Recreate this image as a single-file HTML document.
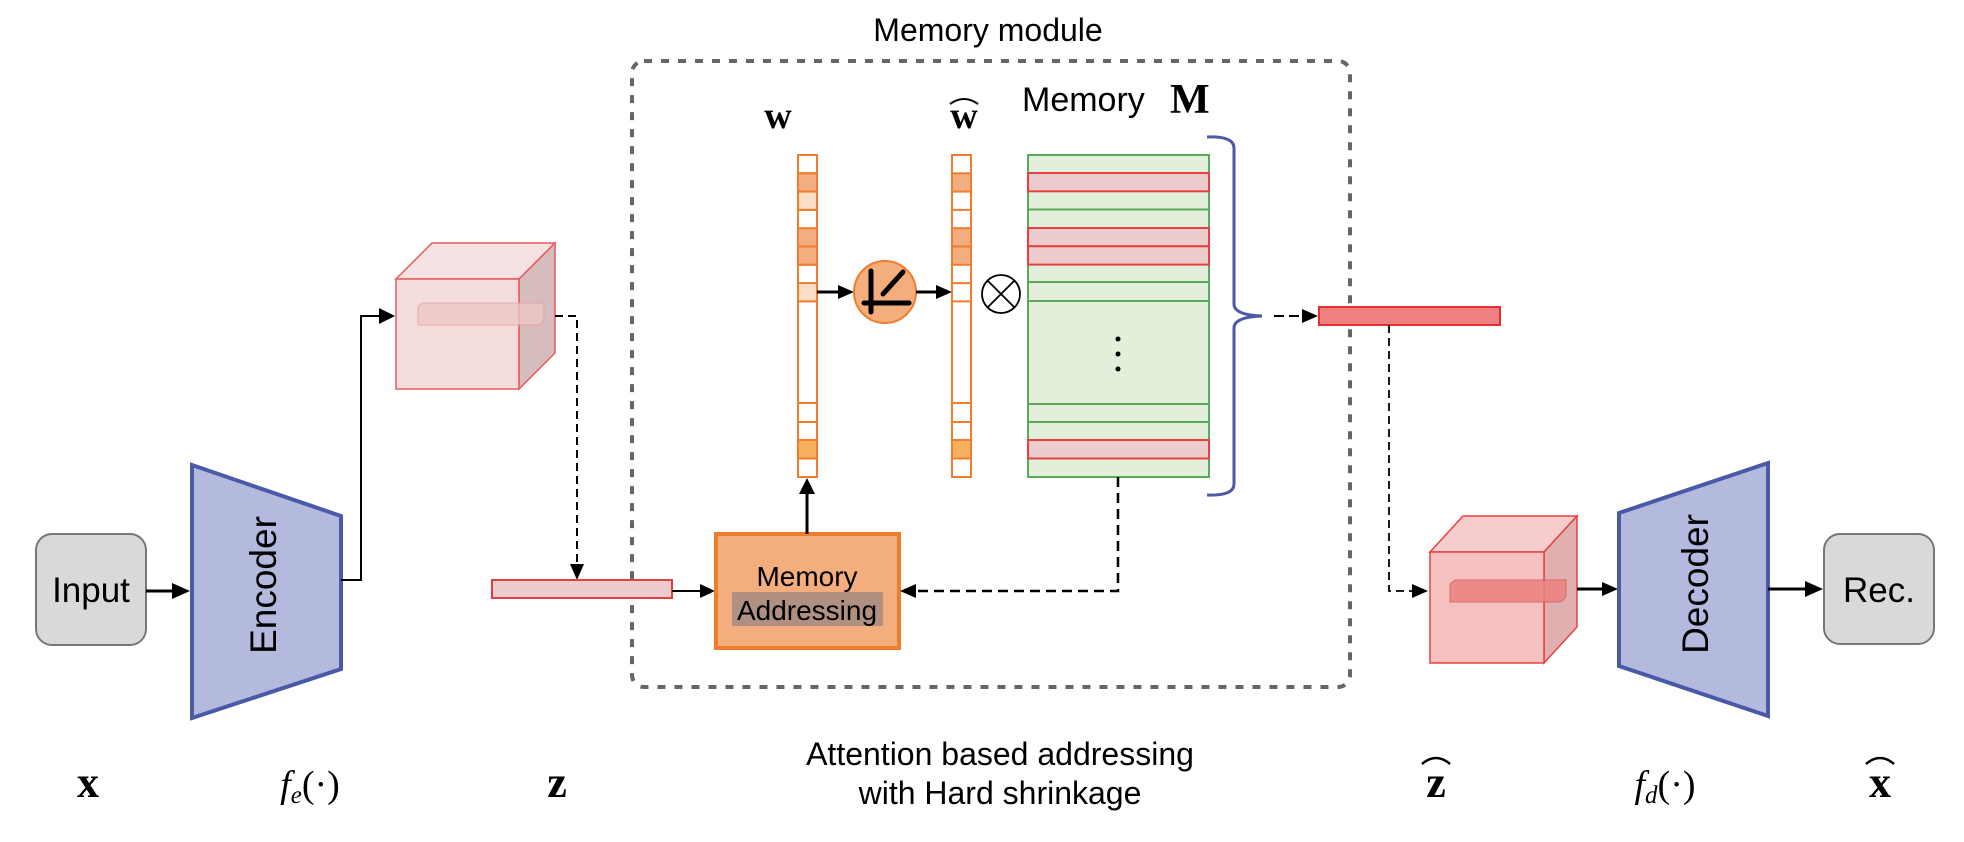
<!DOCTYPE html>
<html><head><meta charset="utf-8"><style>
html,body{margin:0;padding:0;background:#fff;}
svg{display:block;}
text{font-family:"Liberation Sans",sans-serif;}
.m{font-family:"Liberation Serif",serif;font-weight:bold;}
.i{font-family:"Liberation Serif",serif;font-style:italic;}
</style></head><body>
<svg width="1964" height="842" viewBox="0 0 1964 842" xmlns="http://www.w3.org/2000/svg">
<!-- Memory module -->
<text x="988" y="41" font-size="32" text-anchor="middle">Memory module</text>
<rect x="632" y="61" width="718" height="626" rx="12" fill="none" stroke="#666" stroke-width="4" stroke-dasharray="8 9"/>

<!-- Input -->
<rect x="36" y="534" width="110" height="111" rx="16" fill="#d9d9d9" stroke="#777" stroke-width="2"/>
<text x="91" y="602" font-size="35" text-anchor="middle">Input</text>
<line x1="146" y1="591" x2="174" y2="591" stroke="#000" stroke-width="3"/>
<polygon points="190,591 172,583 172,599" fill="#000"/>

<!-- Encoder -->
<polygon points="192,465 341,516 341,669 192,718" fill="#b3bade" stroke="#4a5aa8" stroke-width="4"/>
<text transform="translate(276,585) rotate(-90)" font-size="37" text-anchor="middle">Encoder</text>
<polyline points="341,580 361,580 361,316 380,316" fill="none" stroke="#000" stroke-width="2"/>
<polygon points="395,316 379,308 379,324" fill="#000"/>

<!-- Cube1 -->
<polygon points="396,279 432,243 555,243 519,279" fill="#f6e2e2" stroke="#e85a5a" stroke-width="1.5"/>
<polygon points="519,279 555,243 555,353 519,389" fill="#d6bcbc" stroke="#e85a5a" stroke-width="1.5"/>
<rect x="396" y="279" width="123" height="110" fill="#f4dcdc" stroke="#e85a5a" stroke-width="1.5"/>
<polygon points="418,307 422,303 544,303 544,320 540,325 418,325" fill="#ecc8c8" opacity="0.8" stroke="#e6a0a0" stroke-width="1"/>
<polyline points="555,316 577,316 577,566" fill="none" stroke="#000" stroke-width="2" stroke-dasharray="8 5"/>
<polygon points="577,580 570,564 584,564" fill="#000"/>

<!-- z bar -->
<rect x="492" y="580" width="180" height="18" fill="#eccccc" stroke="#e04040" stroke-width="2"/>
<line x1="672" y1="591" x2="702" y2="591" stroke="#000" stroke-width="2"/>
<polygon points="715,591 700,584 700,598" fill="#000"/>

<!-- Memory Addressing -->
<rect x="716" y="534" width="183" height="114" fill="#f4ad7d" stroke="#ef7d2d" stroke-width="4"/>
<rect x="732" y="592" width="151" height="34" fill="#b09080"/>
<text x="807" y="586" font-size="28" text-anchor="middle">Memory</text>
<text x="807" y="620" font-size="28" text-anchor="middle">Addressing</text>
<line x1="807" y1="534" x2="807" y2="492" stroke="#000" stroke-width="3"/>
<polygon points="807,478 799,494 815,494" fill="#000"/>

<!-- w column -->
<g stroke="#ef7d2d" stroke-width="2">
<rect x="798" y="155" width="19" height="322" fill="#fff"/>
<rect x="798" y="173.3" width="19" height="18.3" fill="#f3ad80"/>
<rect x="798" y="191.6" width="19" height="18.3" fill="#fadfc8"/>
<rect x="798" y="228.2" width="19" height="18.3" fill="#f3ad80"/>
<rect x="798" y="246.5" width="19" height="18.3" fill="#f3ad80"/>
<rect x="798" y="283.1" width="19" height="18.3" fill="#fadfc8"/>
<line x1="798" y1="173.3" x2="817" y2="173.3"/>
<line x1="798" y1="209.9" x2="817" y2="209.9"/>
<line x1="798" y1="264.8" x2="817" y2="264.8"/>
<line x1="798" y1="403" x2="817" y2="403"/>
<line x1="798" y1="422" x2="817" y2="422"/>
<rect x="798" y="440" width="19" height="18.5" fill="#f5b060"/>
</g>
<text x="778" y="128" class="m" font-size="38" text-anchor="middle">w</text>

<line x1="817" y1="292" x2="840" y2="292" stroke="#000" stroke-width="3"/>
<polygon points="854,292 838,285 838,299" fill="#000"/>
<circle cx="885" cy="292" r="31" fill="#f4ad7d" stroke="#ef7d2d" stroke-width="2"/>
<g stroke="#000" stroke-width="5" stroke-linecap="round">
<line x1="871" y1="271" x2="871" y2="312"/>
<line x1="864" y1="303" x2="909" y2="303"/>
<line x1="883" y1="294" x2="903" y2="272"/>
</g>
<line x1="916" y1="292" x2="938" y2="292" stroke="#000" stroke-width="3"/>
<polygon points="952,292 936,285 936,299" fill="#000"/>

<!-- w hat column -->
<g stroke="#ef7d2d" stroke-width="2">
<rect x="952" y="155" width="19" height="322" fill="#fff"/>
<rect x="952" y="173.3" width="19" height="18.3" fill="#f3ad80"/>
<line x1="952" y1="209.9" x2="971" y2="209.9"/>
<rect x="952" y="228.2" width="19" height="18.3" fill="#f3ad80"/>
<rect x="952" y="246.5" width="19" height="18.3" fill="#f3ad80"/>
<line x1="952" y1="283.1" x2="971" y2="283.1"/>
<line x1="952" y1="301.4" x2="971" y2="301.4"/>
<line x1="952" y1="403" x2="971" y2="403"/>
<line x1="952" y1="422" x2="971" y2="422"/>
<rect x="952" y="440" width="19" height="18.5" fill="#f5b060"/>
</g>
<text x="964" y="128" class="m" font-size="38" text-anchor="middle">w</text>
<path d="M950,104 Q964,94 978,104" fill="none" stroke="#000" stroke-width="2"/>

<!-- otimes -->
<circle cx="1001" cy="294" r="19" fill="#fff" stroke="#000" stroke-width="1.8"/>
<line x1="988" y1="281" x2="1014" y2="307" stroke="#000" stroke-width="1.8"/>
<line x1="1014" y1="281" x2="988" y2="307" stroke="#000" stroke-width="1.8"/>

<!-- Memory M -->
<text x="1022" y="111" font-size="34">Memory</text>
<text x="1170" y="113" class="m" font-size="42">M</text>
<g stroke-width="2">
<rect x="1028" y="155" width="181" height="322" fill="#e2efda" stroke="#5aaa5a"/>
<line x1="1028" y1="209.5" x2="1209" y2="209.5" stroke="#5aaa5a"/>
<line x1="1028" y1="282" x2="1209" y2="282" stroke="#5aaa5a"/>
<line x1="1028" y1="301" x2="1209" y2="301" stroke="#5aaa5a"/>
<line x1="1028" y1="404" x2="1209" y2="404" stroke="#5aaa5a"/>
<line x1="1028" y1="422" x2="1209" y2="422" stroke="#5aaa5a"/>
<rect x="1028" y="173" width="181" height="18.3" fill="#eccccc" stroke="#e84040"/>
<rect x="1028" y="228" width="181" height="18.3" fill="#eccccc" stroke="#e84040"/>
<rect x="1028" y="246.3" width="181" height="18.3" fill="#eccccc" stroke="#e84040"/>
<rect x="1028" y="440" width="181" height="18.5" fill="#eccccc" stroke="#e84040"/>
</g>
<circle cx="1118" cy="339" r="2.5" fill="#000"/>
<circle cx="1118" cy="354" r="2.5" fill="#000"/>
<circle cx="1118" cy="369" r="2.5" fill="#000"/>
<path d="M1207,137 Q1234,136 1234,148 L1234,304 Q1234,315 1262,316 Q1234,317 1234,328 L1234,484 Q1234,496 1207,495" fill="none" stroke="#4a5aa8" stroke-width="3"/>
<line x1="1274" y1="316" x2="1304" y2="316" stroke="#000" stroke-width="2" stroke-dasharray="10 5"/>
<polygon points="1318,316 1302,309 1302,323" fill="#000"/>
<rect x="1319" y="307" width="181" height="18" fill="#f08080" stroke="#e03030" stroke-width="2"/>

<!-- dashed from memory to addressing -->
<polyline points="1118,477 1118,591 915,591" fill="none" stroke="#000" stroke-width="2.5" stroke-dasharray="10 6"/>
<polygon points="900,591 916,584 916,598" fill="#000"/>

<!-- dashed from output bar to cube2 -->
<polyline points="1389,325 1389,591 1414,591" fill="none" stroke="#000" stroke-width="1.8" stroke-dasharray="8 5"/>
<polygon points="1428,591 1412,584 1412,598" fill="#000"/>

<!-- Cube2 -->
<polygon points="1430,552 1463,516 1577,516 1544,552" fill="#f7cccc" stroke="#e84040" stroke-width="1.5"/>
<polygon points="1544,552 1577,516 1577,627 1544,663" fill="#e0b0b0" stroke="#e84040" stroke-width="1.5"/>
<rect x="1430" y="552" width="114" height="111" fill="#f5c0c0" stroke="#e84040" stroke-width="1.5"/>
<polygon points="1450,584 1455,580 1566,580 1566,597 1561,602 1450,602" fill="#ec8080" opacity="0.85" stroke="#d86060" stroke-width="1"/>
<line x1="1577" y1="589" x2="1604" y2="589" stroke="#000" stroke-width="3"/>
<polygon points="1618,589 1602,582 1602,596" fill="#000"/>

<!-- Decoder -->
<polygon points="1619,513 1768,463 1768,716 1619,666" fill="#b3bade" stroke="#4a5aa8" stroke-width="4"/>
<text transform="translate(1708,584) rotate(-90)" font-size="37" text-anchor="middle">Decoder</text>
<line x1="1768" y1="589" x2="1806" y2="589" stroke="#000" stroke-width="3"/>
<polygon points="1823,589 1805,581 1805,597" fill="#000"/>
<rect x="1824" y="534" width="110" height="110" rx="16" fill="#d9d9d9" stroke="#777" stroke-width="2"/>
<text x="1879" y="602" font-size="35" text-anchor="middle">Rec.</text>

<!-- caption -->
<text x="1000" y="765" font-size="32" text-anchor="middle">Attention based addressing</text>
<text x="1000" y="804" font-size="32" text-anchor="middle">with Hard shrinkage</text>

<!-- bottom labels -->
<text x="88" y="797" class="m" font-size="44" text-anchor="middle">x</text>
<text x="310" y="797" font-size="38" text-anchor="middle"><tspan class="i">f</tspan><tspan class="i" font-size="25" dy="6">e</tspan><tspan dy="-6" font-family="Liberation Serif">(·)</tspan></text>
<text x="557" y="797" class="m" font-size="44" text-anchor="middle">z</text>
<text x="1436" y="797" class="m" font-size="44" text-anchor="middle">z</text>
<path d="M1422,764 Q1436,752 1450,764" fill="none" stroke="#000" stroke-width="2.5"/>
<text x="1665" y="797" font-size="38" text-anchor="middle"><tspan class="i">f</tspan><tspan class="i" font-size="25" dy="6">d</tspan><tspan dy="-6" font-family="Liberation Serif">(·)</tspan></text>
<text x="1880" y="797" class="m" font-size="44" text-anchor="middle">x</text>
<path d="M1866,764 Q1880,752 1894,764" fill="none" stroke="#000" stroke-width="2.5"/>
</svg>
</body></html>
